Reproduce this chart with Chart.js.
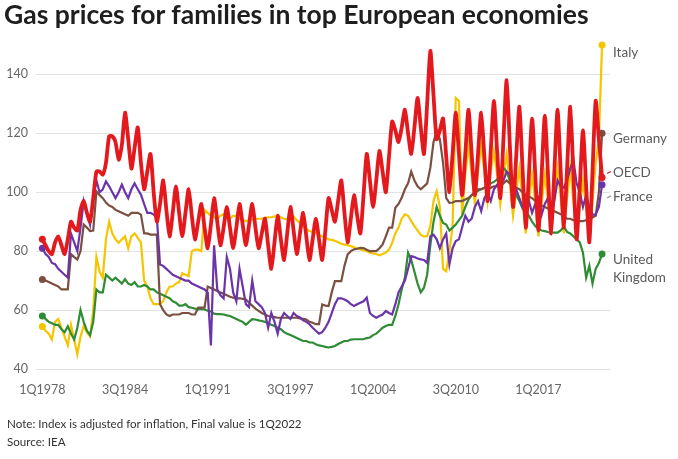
<!DOCTYPE html>
<html>
<head>
<meta charset="utf-8">
<title>Gas prices for families in top European economies</title>
<script src="https://cdn.jsdelivr.net/npm/chart.js@4.4.1/dist/chart.umd.min.js"></script>
<style>
    body { margin: 0; background: #fff; font-family: Lato, 'Noto Sans', sans-serif; }
    .page { position: relative; width: 678px; height: 459px; overflow: hidden; }
    .title { position: absolute; left: 4px; top: -2px; font-size: 26.5px; font-weight: 700; color: #1e1e1e; }
    .note { position: absolute; left: 7px; font-size: 11.6px; color: #333; }
    canvas { position: absolute; left: 0; top: 0; }
</style>
</head>
<body>
<div class="page">
    <canvas id="gasChart" width="678" height="459"></canvas>
    <div class="title">Gas prices for families in top European economies</div>
    <div class="note" style="top:417px">Note: Index is adjusted for inflation, Final value is 1Q2022</div>
    <div class="note" style="top:435px">Source: IEA</div>
</div>
<script>
// Quarterly index, 1Q1978 .. 1Q2022 (one row per year)
const firstYear = 1978;
const quarters = [];
for (let i = 0; i < 177; i++) {
    quarters.push((i % 4 + 1) + 'Q' + (firstYear + Math.floor(i / 4)));
}
const tickLabels = ['1Q1978', '3Q1984', '1Q1991', '3Q1997', '1Q2004', '3Q2010', '1Q2017'];
const seriesNames = ['OECD', 'France', 'Germany', 'United Kingdom', 'Italy'];

const oecd = [
    84, 82, 80, 79,   83, 85, 82, 79,   84, 90, 88, 87,   94, 97, 93, 90,
    98, 107, 107, 106,   110, 119, 119, 117,   111, 116, 127, 118,   108, 115, 122, 110,
    101, 107, 113, 100,   90, 96, 104, 94,   85, 93, 102, 93,   85, 93, 101, 92,
    84, 90, 96, 88,   81, 89, 98, 90,   82, 88, 95, 88,   81, 88, 96, 89,
    82, 89, 96, 88,   81, 86, 91, 82,   74, 83, 92, 84,   77, 86, 95, 87,
    79, 86, 93, 85,   77, 84, 91, 84,   77, 87, 98, 94,   90, 97, 104, 93,
    83, 91, 99, 92,   86, 99, 113, 104,   95, 104, 114, 107,   100, 112, 124, 121,
    117, 122, 128, 120,   113, 122, 132, 122,   113, 130, 148, 133,   118, 121, 125, 112,
    100, 113, 127, 113,   99, 113, 128, 113,   99, 113, 127, 112,   97, 114, 131, 114,
    98, 118, 138, 116,   95, 112, 129, 108,   88, 106, 125, 106,   87, 106, 126, 106,
    86, 107, 128, 107,   88, 108, 129, 106,   84, 102, 121, 102,   83, 107, 131, 118,
    105
];
const france = [
    81, 79, 78, 76,   75.6, 74, 73, 72,   71, 86, 83, 80,   88, 97, 93, 89,
    98, 104, 100, 101,   103.7, 102, 100, 98,   100, 102.6, 100, 98,   101, 103, 101, 99.2,
    96, 93, 93, 92.4,   91.4, 75.5, 75, 74,   73, 72, 71.5, 71,   70.5, 70, 70, 69,
    68.5, 68, 67.5, 67,   66, 48, 82, 67,   65, 64, 78, 74,   66, 63, 74, 68,
    62, 61, 70, 63,   62, 61, 59, 54,   59, 56, 52, 57,   59, 58, 57, 59,
    58, 57.5, 56.5, 56,   55.2, 54, 53, 52,   52.5, 54, 56, 59,   62, 64, 64, 63.6,
    63, 62, 61.4, 62,   62.5, 63, 64.2, 59,   58, 57.4, 58, 58.5,   59.7, 59, 58.5, 62,
    66, 68, 70, 74,   78.3, 78, 77.5, 77.2,   77, 76, 85, 85.6,   84, 81, 84, 86,
    75.5, 81, 83.4, 84,   88, 92, 90, 91,   95, 97, 93.6, 98,   99.8, 97, 101, 102.6,
    103, 104, 107, 106,   102, 101, 98, 95,   92.4, 97, 93, 96,   98, 92.4, 96, 98,
    91.4, 97, 104, 102,   101.5, 104, 108, 111,   103, 100, 95, 99,   95, 92.4, 92.4, 95,
    102.5
];
const germany = [
    70.4, 70, 69.5, 69,   68.5, 68, 67, 67,   67, 79, 78, 77.2,   80, 89, 88, 86.8,
    87, 100.3, 99, 98,   96.5, 95.5, 95, 94,   93.5, 93, 92.5, 92,   93, 93, 93, 92.4,
    86, 86, 85.6, 85.6,   85.6, 62, 60, 58.5,   58, 58.5, 58.5, 58.5,   59, 59, 59, 58.5,
    58.5, 60.8, 60.8, 60.8,   68, 67.5, 67, 66.5,   66, 65.5, 65, 64.5,   64.2, 64, 64, 63.8,
    63.6, 62.5, 61.5, 60.5,   59.7, 59, 58.5, 58,   57.8, 57.6, 57.4, 57.4,   57.4, 57.4, 57.4, 57.4,
    57.4, 57.2, 57, 56.8,   56, 55.7, 55.2, 55.2,   61.9, 61.5, 61.4, 66,   69.8, 69.8, 69.8, 75,
    78.9, 80, 80.6, 80.8,   81.1, 81, 80.5, 80,   80, 80, 81, 82.3,   85, 88, 88, 94.7,
    96, 98.1, 101, 103,   107, 104, 102, 101,   102, 103, 108.3, 117,   121, 118, 110, 98,
    96.4, 96.5, 97, 97,   97, 97.5, 98, 99,   100, 101, 101, 101.5,   101.5, 101.5, 102, 102,
    102, 103, 104, 103,   102, 101.5, 101, 100,   99, 98.5, 98, 97,   96, 95.5, 95, 94.5,
    94, 93.5, 93, 92.5,   92, 91, 91, 90.5,   90.2, 90.2, 90.2, 90.5,   90.7, 91.5, 92, 100,
    120
];
const unitedKingdom = [
    58, 57, 56, 55.5,   55, 55, 53.5, 52.5,   54.5, 52, 50, 54,   60, 56, 53, 51.5,
    56, 67, 66, 66,   72, 71, 70, 71,   70, 69, 70.5, 69,   68.5, 69.5, 68, 68,
    68.5, 68, 67, 67,   66, 65.5, 65, 64.5,   64, 63, 62.5, 61.5,   61.5, 62, 61, 60.8,
    60.5, 60.3, 60.3, 60.2,   59.8, 59.5, 58.8, 58.6,   58.6, 58.5, 58.2, 58,   57.5, 57, 56.5, 56,
    55, 56, 56.9, 56.8,   56.5, 56.3, 56, 55.5,   55, 54.6, 54, 53.5,   52.5, 52, 51.5, 51,
    50.5, 50, 49.5, 49.5,   49, 49, 48.4, 48,   47.8, 47.5, 47.3, 47.5,   47.8, 48.5, 49, 49.5,
    49.5, 50, 50.1, 50.1,   50.1, 50.1, 50.5, 50.7,   51.5, 52, 53, 54,   54.6, 55, 55, 58,
    62, 67, 71, 79.5,   77, 73, 69, 66,   67.6, 72, 82, 90,   95, 92, 89.6, 89,
    87, 88, 89, 90.5,   92, 95, 97.5, 99,   99.8, 100.5, 101, 101.5,   102, 103, 103.5, 104.3,
    106, 108.3, 107, 104,   102, 99, 97, 94.5,   93, 92, 90, 88.5,   87.5, 87, 86.8, 86.5,
    86.3, 86.3, 86.3, 87,   88.5, 86.5, 86, 85,   84, 83, 79.5, 71,   75, 69, 74, 76,
    79
];
const italy = [
    54.4, 53, 52, 50,   56, 57, 54, 51,   48, 55, 50, 45,   51, 54.6, 52.5, 51,
    60, 78, 73, 71,   84, 90, 86, 84,   82.8, 84, 85, 81,   85, 86, 84.5, 83,
    70, 68, 64, 62,   62, 62, 63, 66,   68, 68, 69, 69.5,   72.5, 72, 71.5, 80,
    80.5, 80.5, 80, 94,   93, 92, 91.5, 91,   92, 92.5, 91.5, 91,   92, 92, 91, 90.5,
    90.2, 90.5, 90.8, 91,   91, 91, 91.3, 91.5,   91.5, 91.8, 91.8, 91.5,   91, 90.8, 91.2, 91.8,
    90.5, 89.6, 88.5, 87.5,   86.8, 86.5, 86.3, 85.5,   85, 84.5, 84, 83.8,   83.5, 83, 82.5, 82.2,
    82, 81.7, 81.3, 81,   80.6, 80.3, 80, 79.5,   79.2, 79, 78.6, 79,   79.5, 80.5, 82.8, 86,
    88, 91, 92.5, 92,   90.2, 88.5, 87, 85.5,   85, 85.1, 88.5, 97,   100.4, 95, 74, 73.2,
    80, 88.5, 132, 131,   92, 106, 116, 106,   96, 107, 116, 107,   97, 107, 114, 106,
    96, 106, 113, 103,   92, 100, 108, 98,   86, 97, 106, 97,   85, 96, 106, 97,
    86, 98, 108, 98,   86, 98, 108, 97,   84, 95, 104, 95,   83, 97, 110, 118,
    150
];

const seriesValues = [oecd, france, germany, unitedKingdom, italy];
const seriesColors = ['#e3191e', '#6b34a8', '#7c5040', '#2f8b34', '#f5c500'];

// End labels drawn to the right of the plot
const endLabelsPlugin = {
    id: 'endLabels',
    afterDatasetsDraw(chart, args, opts) {
        const ctx = chart.ctx;
        const area = chart.chartArea;
        ctx.save();
        ctx.font = '13.5px Lato, sans-serif';
        ctx.fillStyle = '#5a5a5a';
        ctx.textBaseline = 'middle';
        ctx.textAlign = 'left';
        chart.data.datasets.forEach((ds, i) => {
            const meta = chart.getDatasetMeta(i);
            const last = meta.data[meta.data.length - 1];
            const shift = opts.shifts[i];
            const lines = opts.lines[i];
            lines.forEach((line, k) => {
                ctx.fillText(line, area.right + 3, last.y + shift + k * 18);
            });
            if (opts.marks[i]) {
                ctx.strokeStyle = opts.marks[i];
                ctx.lineWidth = 1.2;
                ctx.beginPath();
                ctx.moveTo(area.right - 3, last.y + shift + 1);
                ctx.lineTo(area.right + 1, last.y + shift - 1);
                ctx.stroke();
            }
        });
        ctx.restore();
    }
};

class GasChart {
    constructor() {
        this.chart = null;
        this.init();
    }

    init() {
        const ctx = document.getElementById('gasChart');
        if (!ctx) return;

        const datasets = seriesValues.map((values, i) => ({
            label: seriesNames[i],
            data: values.map((v, q) => ({ x: q, y: v })),
            borderColor: seriesColors[i],
            backgroundColor: seriesColors[i],
            borderWidth: i === 0 ? 3.8 : 2.2,
            tension: i === 0 ? 0.22 : 0,
            pointRadius: (c) => (c.dataIndex === 0 || c.dataIndex === values.length - 1) ? 3.5 : 0,
            pointBorderWidth: 0,
            fill: false
        }));

        this.chart = new Chart(ctx, {
            type: 'line',
            data: { datasets: datasets },
            options: {
                responsive: false,
                animation: false,
                layout: {
                    padding: { top: 39, right: 68, left: 0, bottom: 0 }
                },
                plugins: {
                    legend: { display: false },
                    tooltip: { enabled: false },
                    endLabels: {
                        shifts: [-5, 12, 5, 6, 8],
                        lines: [['OECD'], ['France'], ['Germany'], ['United', 'Kingdom'], ['Italy']],
                        marks: ['#e3191e', '#999', null, null, null]
                    }
                },
                scales: {
                    x: {
                        type: 'linear',
                        min: -2,
                        max: 178.5,
                        grid: { display: false },
                        border: { display: false },
                        ticks: {
                            stepSize: 26,
                            includeBounds: false,
                            autoSkip: false,
                            maxRotation: 0,
                            padding: 5,
                            color: '#666',
                            font: { family: 'Lato', size: 12.5 },
                            callback: function (value) {
                                return tickLabels[value / 26] || '';
                            }
                        },
                        afterFit: function (scale) { scale.height = 90; }
                    },
                    y: {
                        min: 40,
                        max: 152,
                        grid: { color: '#e3e3e3', drawTicks: false },
                        border: { display: false },
                        ticks: {
                            stepSize: 20,
                            includeBounds: false,
                            padding: 8,
                            color: '#666',
                            font: { family: 'Lato', size: 12.5 }
                        },
                        afterFit: function (scale) { scale.width = 36; }
                    }
                }
            },
            plugins: [endLabelsPlugin]
        });
    }
}

document.addEventListener('DOMContentLoaded', function () {
    window.gasChart = new GasChart();
});
</script>
</body>
</html>
